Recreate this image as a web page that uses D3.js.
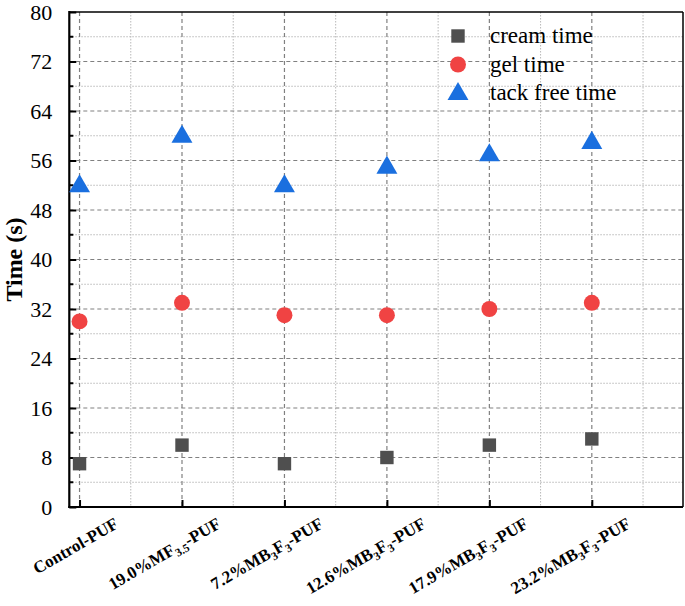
<!DOCTYPE html>
<html>
<head>
<meta charset="utf-8">
<script src="https://cdn.jsdelivr.net/npm/d3@7/dist/d3.min.js"></script>
<style>
  body { margin: 0; background: #fff; }
</style>
</head>
<body>
<div id="chart-area"></div>
<script>
// data
var samples = ["Control-PUF", "19.0%MF3.5-PUF", "7.2%MB3F3-PUF", "12.6%MB3F3-PUF", "17.9%MB3F3-PUF", "23.2%MB3F3-PUF"];
var creamTime = [7, 10, 7, 8, 10, 11];
var gelTime = [30, 33, 31, 31, 32, 33];
var tackFreeTime = [52, 60, 52, 55, 57, 59];
var yTicks = [0, 8, 16, 24, 32, 40, 48, 56, 64, 72, 80];
// label pieces: [text, isSubscript]
var labelParts = [
  [["Control-PUF", false]],
  [["19.0%MF", false], ["3.5", true], ["-PUF", false]],
  [["7.2%MB", false], ["3", true], ["F", false], ["3", true], ["-PUF", false]],
  [["12.6%MB", false], ["3", true], ["F", false], ["3", true], ["-PUF", false]],
  [["17.9%MB", false], ["3", true], ["F", false], ["3", true], ["-PUF", false]],
  [["23.2%MB", false], ["3", true], ["F", false], ["3", true], ["-PUF", false]]
];

var FONT = "Liberation Serif";
var W = 685, H = 606;
var margin = { left: 69.3, right: 2, top: 12, bottom: 99 };
var width = W - margin.left - margin.right;
var height = H - margin.top - margin.bottom;

var svg = d3.select("#chart-area").append("svg")
  .attr("width", W)
  .attr("height", H);

var g = svg.append("g")
  .attr("transform", "translate(" + margin.left + "," + margin.top + ")");

var x = d3.scaleLinear().domain([-0.1, 5.89]).range([0, width]);
var y = d3.scaleLinear().domain([0, 80]).range([height, 0]);

var idx = d3.range(samples.length);
var minorY = d3.range(4, 80, 8);
var minorX = idx.map(function(i){ return i + 0.5; });

// grid
g.selectAll(".hminor").data(minorY).enter().append("line")
  .attr("x1", 0).attr("x2", width)
  .attr("y1", d => y(d)).attr("y2", d => y(d))
  .attr("stroke", "#b8b8b8").attr("stroke-width", 1).attr("stroke-dasharray", "1.5,1.5");
g.selectAll(".vminor").data(minorX).enter().append("line")
  .attr("x1", d => x(d)).attr("x2", d => x(d))
  .attr("y1", 0).attr("y2", height)
  .attr("stroke", "#b8b8b8").attr("stroke-width", 1).attr("stroke-dasharray", "1.5,1.5");
g.selectAll(".hmajor").data(yTicks.slice(1, -1)).enter().append("line")
  .attr("x1", 0).attr("x2", width)
  .attr("y1", d => y(d)).attr("y2", d => y(d))
  .attr("stroke", "#808080").attr("stroke-width", 1.2).attr("stroke-dasharray", "4,3");
g.selectAll(".vmajor").data(idx).enter().append("line")
  .attr("x1", d => x(d)).attr("x2", d => x(d))
  .attr("y1", 0).attr("y2", height)
  .attr("stroke", "#808080").attr("stroke-width", 1.2).attr("stroke-dasharray", "4,3");

// frame
g.append("line").attr("x1", 0).attr("x2", width).attr("y1", 0).attr("y2", 0)
  .attr("stroke", "#000").attr("stroke-width", 1.5);
g.append("line").attr("x1", width).attr("x2", width).attr("y1", 0).attr("y2", height)
  .attr("stroke", "#000").attr("stroke-width", 1.5);

// y axis, ticks pointing inward
var yAxis = g.append("g").call(d3.axisLeft(y).tickValues(yTicks).tickSize(-7).tickPadding(17));
yAxis.select(".domain").remove();
yAxis.selectAll(".tick line").attr("stroke-width", 2);
yAxis.selectAll(".tick text")
  .attr("font-family", FONT)
  .attr("font-size", "22px")
  .attr("fill", "#000");
g.selectAll(".yminor").data(minorY).enter().append("line")
  .attr("x1", 0).attr("x2", 4)
  .attr("y1", d => y(d)).attr("y2", d => y(d))
  .attr("stroke", "#000").attr("stroke-width", 2);

// x axis
var xAxis = g.append("g").attr("transform", "translate(0," + height + ")")
  .call(d3.axisBottom(x).tickValues(idx).tickSize(-7).tickFormat(""));
xAxis.select(".domain").remove();
xAxis.selectAll(".tick line").attr("stroke-width", 2);

g.append("line").attr("x1", 0).attr("x2", 0).attr("y1", -1).attr("y2", height + 1)
  .attr("stroke", "#000").attr("stroke-width", 2.2);
g.append("line").attr("x1", -1).attr("x2", width).attr("y1", height).attr("y2", height)
  .attr("stroke", "#000").attr("stroke-width", 2.2);

// x labels, rotated
var xl = g.selectAll(".xlabel").data(idx).enter().append("text")
  .attr("class", "xlabel")
  .attr("font-family", FONT)
  .attr("text-anchor", "end")
  .attr("font-size", "17px")
  .attr("font-weight", "bold")
  .attr("transform", d => "translate(" + (x(d) + 40) + "," + (height + 20) + ") rotate(-30)");
xl.each(function(d){
  var t = d3.select(this);
  var wasSub = false;
  labelParts[d].forEach(function(p){
    var ts = t.append("tspan").text(p[0]);
    if (p[1]) ts.attr("font-size", "11.5px").attr("dy", 4);
    else ts.attr("dy", wasSub ? -4 : 0);
    wasSub = p[1];
  });
});

// y title
g.append("text")
  .attr("transform", "translate(" + (-47) + "," + y(40) + ") rotate(-90)")
  .attr("font-family", FONT)
  .attr("text-anchor", "middle")
  .attr("font-size", "24px")
  .attr("font-weight", "bold")
  .text("Time (s)");

// markers
var sym = {
  square: d3.symbol().type(d3.symbolSquare).size(180),
  circle: d3.symbol().type(d3.symbolCircle).size(200),
  triangle: d3.symbol().type(d3.symbolTriangle).size(190)
};
var series = [
  { name: "cream time", values: creamTime, shape: "square", color: "#4f4f4f", dy: 0 },
  { name: "gel time", values: gelTime, shape: "circle", color: "#f04343", dy: 0 },
  { name: "tack free time", values: tackFreeTime, shape: "triangle", color: "#1a6fdf", dy: 1 }
];
series.forEach(function(s){
  g.selectAll(".m-" + s.shape).data(s.values).enter().append("path")
    .attr("d", sym[s.shape])
    .attr("fill", s.color)
    .attr("transform", (d, i) => "translate(" + x(i) + "," + (y(d) + s.dy) + ")");
});

// legend
var legend = svg.append("g").attr("transform", "translate(458,36)");
series.forEach(function(s, i){
  var row = legend.append("g").attr("transform", "translate(0," + (i * 28.5) + ")");
  row.append("path").attr("d", sym[s.shape]).attr("fill", s.color)
    .attr("transform", "translate(0," + (s.dy) + ")");
  row.append("text").attr("x", 32).attr("y", 7)
    .attr("font-family", FONT)
    .attr("font-size", "23px").text(s.name);
});
</script>
</body>
</html>
